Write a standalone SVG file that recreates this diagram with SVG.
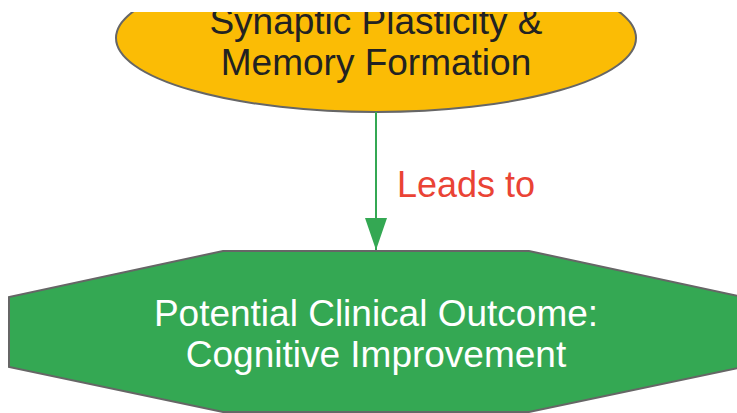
<svg xmlns="http://www.w3.org/2000/svg" width="737" height="413" viewBox="0 0 737 413">
<style>
.node{stroke:#666666;stroke-width:2}
.lbl{font-family:"Liberation Sans",Arial,sans-serif;font-size:37px;text-anchor:middle}
.edge{stroke:#34a853;stroke-width:2;fill:none}
</style>
<defs>
<clipPath id="clip"><rect x="0" y="12" width="737" height="401"/></clipPath>
<marker id="arrow" markerUnits="userSpaceOnUse" markerWidth="32" markerHeight="22" refX="32" refY="11" orient="auto" viewBox="0 0 32 22">
<path d="M0,0 L32,11 L0,22 Z" fill="#34a853"/>
</marker>
</defs>
<rect width="737" height="413" fill="#ffffff"/>
<g clip-path="url(#clip)">
<g id="synaptic">
<ellipse class="node" cx="376" cy="38" rx="260" ry="74" fill="#fbbc05"/>
<text class="lbl" fill="#222222"><tspan x="376" y="34">Synaptic Plasticity &amp;</tspan><tspan x="376" y="75">Memory Formation</tspan></text>
</g>
<g id="connectors">
<path class="edge" d="M376,112 V250" marker-end="url(#arrow)"/>
<text class="lbl" x="466" y="197" fill="#ea4335" style="font-size:36px">Leads to</text>
</g>
<g id="outcome">
<polygon class="node" points="223,251 529,251 743,297 743,367 529,412 223,412 9,367 9,297" fill="#34a853"/>
<text class="lbl" fill="#ffffff"><tspan x="376" y="326">Potential Clinical Outcome:</tspan><tspan x="376" y="367">Cognitive Improvement</tspan></text>
</g>
</g>
</svg>
